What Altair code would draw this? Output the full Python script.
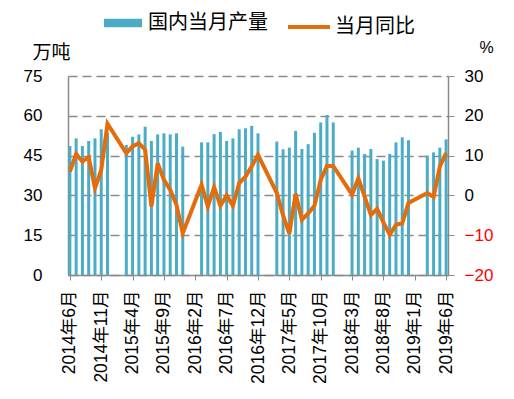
import altair as alt
import pandas as pd

# category axis: every month from 2014-06 to 2019-06
all_months = [f"{y}年{m}月" for y in range(2014, 2020) for m in range(1, 13)
              if (2014, 6) <= (y, m) <= (2019, 6)]
# months with data (Jan/Feb are not reported separately)
data_months = [mo for mo in all_months if not (mo.endswith("年1月") or mo.endswith("年2月"))]

tick_labels = ["2014年6月", "2014年11月", "2015年4月", "2015年9月", "2016年2月",
               "2016年7月", "2016年12月", "2017年5月", "2017年10月", "2018年3月",
               "2018年8月", "2019年1月", "2019年6月"]

prod_2014 = [48.6, 51.5, 48.6, 50.5, 51.5, 54.9, 53.5]
prod_2015 = [49.0, 52.1, 53.0, 55.9, 50.5, 53.0, 53.4, 53.0, 53.4, 48.4]
prod_2016 = [50.0, 50.0, 53.1, 53.9, 50.5, 51.5, 54.9, 55.3, 56.2, 53.4]
prod_2017 = [50.3, 47.4, 48.0, 54.3, 47.5, 49.3, 53.6, 57.5, 60.3, 57.5]
prod_2018 = [46.9, 48.0, 45.6, 47.5, 43.7, 43.1, 45.6, 50.0, 51.9, 50.8]
prod_2019 = [45.0, 46.2, 48.0, 51.1]

yoy_2014 = [6.0, 10.4, 8.5, 9.6, 1.8, 6.4, 18.0]
yoy_2015 = [10.6, 12.3, 13.1, 11.5, -2.8, 8.1, 3.9, 1.4, -2.4, -9.5]
yoy_2016 = [2.7, -2.8, 2.1, -2.6, 0.0, -2.6, 3.1, 4.7, 7.3, 10.2]
yoy_2017 = [0.6, -5.0, -9.6, 0.4, -6.1, -4.5, -2.6, 3.9, 7.4, 7.4]
yoy_2018 = [0.2, 4.3, -0.3, -4.9, -3.4, -6.8, -9.9, -7.4, -7.0, -1.9]
yoy_2019 = [0.6, -0.4, 7.3, 10.6]

production = prod_2014 + prod_2015 + prod_2016 + prod_2017 + prod_2018 + prod_2019
yoy = yoy_2014 + yoy_2015 + yoy_2016 + yoy_2017 + yoy_2018 + yoy_2019

df = pd.DataFrame({
    "month": data_months,
    "idx": list(range(len(data_months))),
    "prod": production,
    "yoy": yoy,
    "s1": "国内当月产量",
    "s2": "当月同比",
})

FONT = "Liberation Sans, Noto Sans CJK SC, sans-serif"
GRAY = "#8a8a8a"

x = alt.X(
    "month:O",
    scale=alt.Scale(type="point", domain=all_months, padding=0.3),
    axis=alt.Axis(values=tick_labels, labelAngle=-90, title=None, labelFontSize=17.5,
                  tickSize=5, labelPadding=10, domainColor=GRAY, domainWidth=1.5,
                  tickColor=GRAY, grid=False, labelOverlap=False),
)

bars = alt.Chart(df).mark_bar(size=3).encode(
    x=x,
    y=alt.Y("prod:Q", scale=alt.Scale(domain=[0, 75]),
            axis=alt.Axis(values=[0, 15, 30, 45, 60, 75], title="万吨", titleAngle=0,
                          titleX=-17, titleY=-18, titleAlign="center",
                          titleBaseline="alphabetic", titleFontSize=19,
                          titleFontWeight="normal", labelFontSize=17, labelPadding=26,
                          tickSize=0, grid=True, gridDash=[9, 5], gridColor=GRAY,
                          gridWidth=1.3, domainColor=GRAY, domainWidth=1.5)),
    color=alt.Color("s1:N", scale=alt.Scale(domain=["国内当月产量"], range=["#4BACC6"]),
                    legend=alt.Legend(title=None, orient="none", legendX=36, legendY=-72,
                                      symbolType="M-1,-0.22H1V0.22H-1Z", symbolSize=1444,
                                      symbolStrokeWidth=0, labelFontSize=20,
                                      labelOffset=6, padding=0)),
)

line = alt.Chart(df).mark_line(strokeWidth=4).encode(
    x=x,
    y=alt.Y("yoy:Q", scale=alt.Scale(domain=[-20, 30]),
            axis=alt.Axis(orient="right", values=[-20, -10, 0, 10, 20, 30], title="%",
                          titleAngle=0, titleX=38, titleY=-24, titleAlign="center",
                          titleBaseline="alphabetic", titleFontSize=16,
                          titleFontWeight="normal", labelFontSize=17, labelPadding=10,
                          tickSize=6, tickColor=GRAY, grid=False, domainColor=GRAY,
                          domainWidth=1.5,
                          labelColor={"expr": "datum.value < 0 ? 'red' : 'black'"})),
    stroke=alt.Stroke("s2:N", scale=alt.Scale(domain=["当月同比"], range=["#E46C0A"]),
                      legend=alt.Legend(title=None, orient="none", legendX=218, legendY=-72,
                                        symbolType="stroke", symbolSize=1764,
                                        symbolStrokeWidth=4, labelFontSize=20,
                                        labelOffset=3, padding=0)),
    order=alt.Order("idx:Q"),
)

chart = alt.layer(bars, line).resolve_scale(y="independent").properties(
    width=380, height=199,
    padding={"left": 60, "top": 68, "right": 50, "bottom": 108},
    autosize=alt.AutoSizeParams(type="none"),
).configure_view(stroke=None).configure_axis(
    labelFont=FONT, titleFont=FONT, labelColor="black", titleColor="black"
).configure_legend(labelFont=FONT, labelColor="black")

chart.save("out.html", embed_options={"renderer": "svg", "actions": False})
